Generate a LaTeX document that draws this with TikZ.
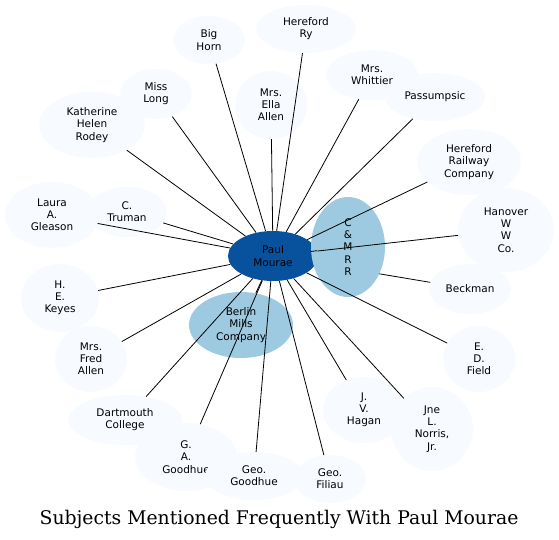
\documentclass[tikz,border=0pt]{standalone}
\usepackage{fontspec}
\usepackage{tikz}
\usetikzlibrary{shapes.geometric}
\newfontfamily\labelfont{DejaVu Sans}
\newfontfamily\captionfont{DejaVu Serif}
\definecolor{outer}{HTML}{F7FBFF}
\definecolor{mid}{HTML}{9ECAE1}
\definecolor{core}{HTML}{08519C}

\begin{document}
\begin{tikzpicture}[
  x=1pt, y=-1pt,
  subj/.style={ellipse, fill=outer, inner sep=0pt, align=center, font=\labelfont\fontsize{10.5}{12.2}\selectfont},
  hub/.style={subj, fill=mid},
  centre/.style={subj, fill=core},
  link/.style={line width=0.8pt, black},
  caption/.style={font=\captionfont\fontsize{18.8}{22}\selectfont, anchor=base}
]
  \useasboundingbox (0,0) rectangle (559,540);

  \node[centre, minimum width=90pt, minimum height=50pt] (paul) at (273,256) {Paul\\Mourae};
  \node[subj, minimum width=82pt, minimum height=50pt] (beckman) at (470,289) {Beckman};
  \draw[link] (paul) -- (beckman);
  \node[hub, minimum width=74pt, minimum height=100pt] (cmrr) at (348,247) {C\\\&\\M\\R\\R};
  \node[hub, minimum width=104pt, minimum height=66pt] (berlin) at (241,325) {Berlin\\Mills\\Company};

  \node[subj, minimum width=72pt, minimum height=48pt] (bighorn) at (209,40) {Big\\Horn};
  \node[subj, minimum width=100pt, minimum height=48pt] (herefordry) at (306,29) {Hereford\\Ry};
  \node[subj, minimum width=106pt, minimum height=66pt] (rodey) at (92,125) {Katherine\\Helen\\Rodey};
  \node[subj, minimum width=72pt, minimum height=50pt] (misslong) at (156,94) {Miss\\Long};
  \node[subj, minimum width=72pt, minimum height=68pt] (ellaallen) at (271,105) {Mrs.\\Ella\\Allen};
  \node[subj, minimum width=92pt, minimum height=50pt] (whittier) at (372,75) {Mrs.\\Whittier};
  \node[subj, minimum width=100pt, minimum height=48pt] (passumpsic) at (435,97) {Passumpsic};
  \node[subj, minimum width=104pt, minimum height=66pt] (herefordrail) at (469,162) {Hereford\\Railway\\Company};
  \node[subj, minimum width=94pt, minimum height=66pt] (gleason) at (52,215) {Laura\\A.\\Gleason};
  \node[subj, minimum width=80pt, minimum height=50pt] (truman) at (127,212) {C.\\Truman};
  \node[subj, minimum width=78pt, minimum height=68pt] (keyes) at (60,298) {H.\\E.\\Keyes};
  \node[subj, minimum width=72pt, minimum height=66pt] (fredallen) at (91,359) {Mrs.\\Fred\\Allen};
  \node[subj, minimum width=96pt, minimum height=84pt] (hanover) at (506,230) {Hanover\\W\\W\\Co.};
  \node[subj, minimum width=72pt, minimum height=66pt] (field) at (479,359) {E.\\D.\\Field};
  \node[subj, minimum width=82pt, minimum height=66pt] (hagan) at (364,410) {J.\\V.\\Hagan};
  \node[subj, minimum width=82pt, minimum height=84pt] (norris) at (432,429) {Jne\\L.\\Norris,\\Jr.};
  \node[subj, minimum width=114pt, minimum height=50pt] (dartmouth) at (125,420) {Dartmouth\\College};
  \node[subj, minimum width=102pt, minimum height=68pt] (gagoodhue) at (186,457) {G.\\A.\\Goodhue};
  \node[subj, minimum width=98pt, minimum height=48pt] (geogoodhue) at (254,476) {Geo.\\Goodhue};
  \node[subj, minimum width=72pt, minimum height=48pt] (filiau) at (330,479) {Geo.\\Filiau};

  \draw[link] (paul) -- (cmrr);
  \draw[link] (paul) -- (berlin);
  \draw[link] (paul) -- (bighorn);
  \draw[link] (paul) -- (herefordry);
  \draw[link] (paul) -- (rodey);
  \draw[link] (paul) -- (misslong);
  \draw[link] (paul) -- (ellaallen);
  \draw[link] (paul) -- (whittier);
  \draw[link] (paul) -- (passumpsic);
  \draw[link] (paul) -- (herefordrail);
  \draw[link] (paul) -- (gleason);
  \draw[link] (paul) -- (truman);
  \draw[link] (paul) -- (keyes);
  \draw[link] (paul) -- (fredallen);
  \draw[link] (paul) -- (hanover);
  \draw[link] (paul) -- (field);
  \draw[link] (paul) -- (hagan);
  \draw[link] (paul) -- (norris);
  \draw[link] (paul) -- (dartmouth);
  \draw[link] (paul) -- (gagoodhue);
  \draw[link] (paul) -- (geogoodhue);
  \draw[link] (paul) -- (filiau);

  \node[caption] (title) at (279,524) {Subjects Mentioned Frequently With Paul Mourae};
\end{tikzpicture}
\end{document}
